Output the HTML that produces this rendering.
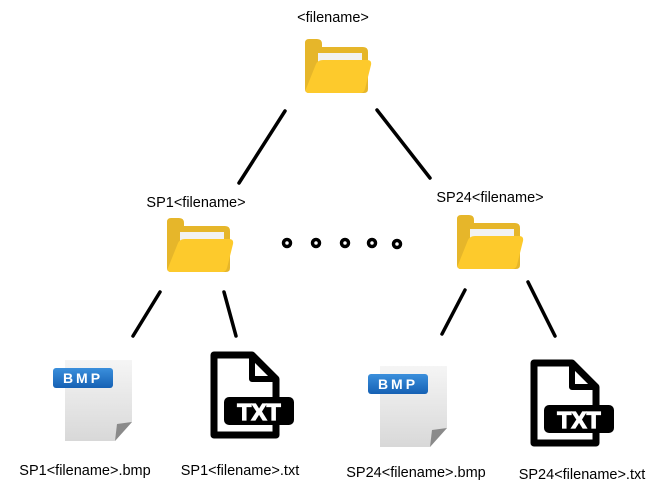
<!DOCTYPE html>
<html><head><meta charset="utf-8"><style>
html,body{margin:0;padding:0;background:#fff;}
svg{display:block;}
text{font-family:"Liberation Sans",sans-serif;font-size:14.5px;fill:#000;}
</style></head><body>
<svg width="667" height="497" viewBox="0 0 667 497" xmlns="http://www.w3.org/2000/svg">
<defs>
<g id="folder">
 <path d="M4,0 H12 Q17,0 17,5 V8 H58 Q63,8 63,13 V50 Q63,54 59,54 H4 Q0,54 0,50 V4 Q0,0 4,0 Z" fill="#E6B62A"/>
 <rect x="13" y="14" width="44" height="10" fill="#F2F2F2"/>
 <path d="M18,21 H62 Q67,21 66,26 L60,50 Q59,54 55,54 H4 Q0,54 1,50 L11,25 Q13,21 18,21 Z" fill="#FDCA2C"/>
</g>
<linearGradient id="pg" x1="0" y1="0" x2="0" y2="1"><stop offset="0" stop-color="#f5f5f5"/><stop offset="1" stop-color="#d8d8d8"/></linearGradient>
<linearGradient id="bg" x1="0" y1="0" x2="0" y2="1"><stop offset="0" stop-color="#3b8fdc"/><stop offset="1" stop-color="#1561b4"/></linearGradient>
<g id="bmp">
 <path d="M0,0 H67 V62 L50,81 H0 Z" fill="url(#pg)"/>
 <path d="M50,81 L52,64 L67,62 Z" fill="#8a8a8a"/>
 <rect x="-12" y="8" width="60" height="20" rx="3" fill="url(#bg)"/>
 <text x="18" y="23" text-anchor="middle" style="font-size:14px;font-weight:bold;fill:#fff;letter-spacing:3px">BMP</text>
</g>
<g id="txt">
 <path d="M4,4 H42 L66,28 V84 H4 Z" fill="#fff" stroke="#000" stroke-width="7" stroke-linejoin="round"/>
 <path d="M42,4 V28 H66" fill="none" stroke="#000" stroke-width="6" stroke-linejoin="round"/>
 <rect x="14" y="46" width="70" height="28" rx="5" fill="#000"/>
 <text x="49" y="69" text-anchor="middle" style="font-size:23px;font-weight:bold;fill:#fff;stroke:#fff;stroke-width:1.2">TXT</text>
</g>
</defs>

<text x="333" y="22" text-anchor="middle">&lt;filename&gt;</text>
<use href="#folder" x="305" y="39"/>

<g stroke="#000" stroke-width="3.5" stroke-linecap="round">
<line x1="285" y1="111" x2="239" y2="183"/>
<line x1="377" y1="110" x2="430" y2="178"/>
<line x1="160" y1="292" x2="133" y2="336"/>
<line x1="224" y1="292" x2="236" y2="336"/>
<line x1="465" y1="290" x2="442" y2="334"/>
<line x1="528" y1="282" x2="555" y2="336"/>
</g>

<text x="196" y="207" text-anchor="middle">SP1&lt;filename&gt;</text>
<use href="#folder" x="167" y="218"/>
<text x="490" y="202" text-anchor="middle">SP24&lt;filename&gt;</text>
<use href="#folder" x="457" y="215"/>

<g fill="none" stroke="#000" stroke-width="3.5">
<circle cx="287" cy="243" r="3.5"/>
<circle cx="316" cy="243" r="3.5"/>
<circle cx="345" cy="243" r="3.5"/>
<circle cx="372" cy="243" r="3.5"/>
<circle cx="397" cy="244" r="3.5"/>
</g>

<use href="#bmp" x="65" y="360"/>
<use href="#txt" x="210" y="351"/>
<use href="#bmp" x="380" y="366"/>
<use href="#txt" x="530" y="359"/>

<text x="85" y="475" text-anchor="middle">SP1&lt;filename&gt;.bmp</text>
<text x="240" y="475" text-anchor="middle">SP1&lt;filename&gt;.txt</text>
<text x="416" y="477" text-anchor="middle">SP24&lt;filename&gt;.bmp</text>
<text x="582" y="479" text-anchor="middle">SP24&lt;filename&gt;.txt</text>
</svg>
</body></html>
